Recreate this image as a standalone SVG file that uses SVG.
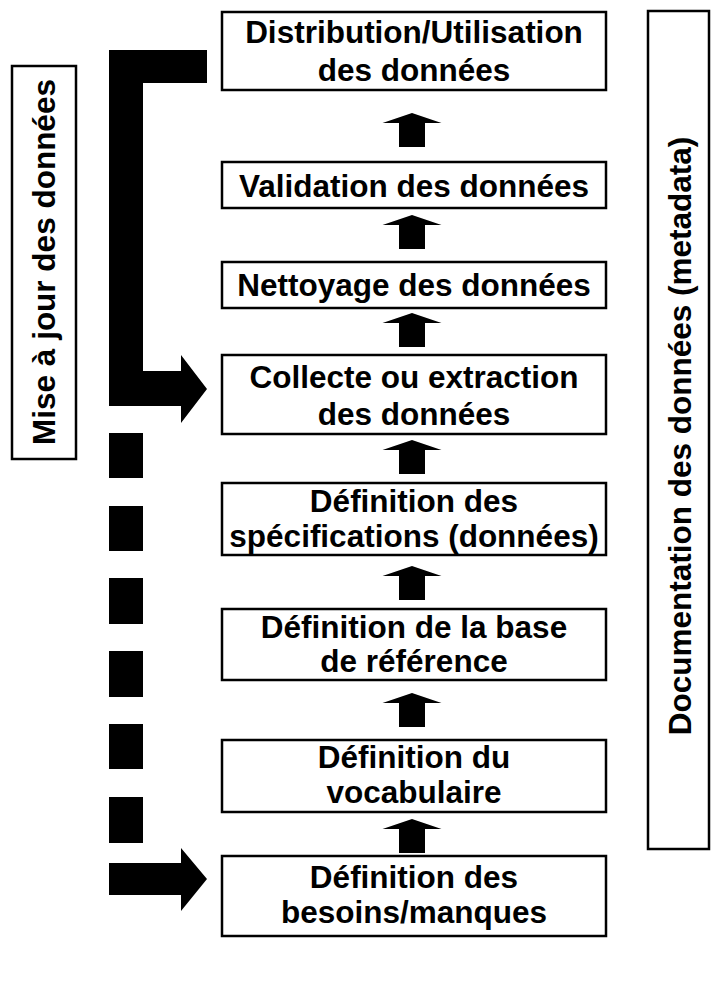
<svg xmlns="http://www.w3.org/2000/svg" width="712" height="994" viewBox="0 0 712 994">
<style>
.box{fill:#fff;stroke:#000;stroke-width:2.5}
.t{font-family:"Liberation Sans",Arial,sans-serif;font-weight:bold;font-size:31.5px;fill:#000;text-anchor:middle}
.k{fill:#000;stroke:none}
</style>
<defs>
<polygon id="up" points="0,0 29.5,10 13,10 13,34 -13,34 -13,10 -29.5,10"/>
</defs>
<rect width="712" height="994" fill="#fff"/>
<g id="connectors" class="k">
<polygon points="109,50 207,50 207,83 143,83 143,371 181,371 181,355 207,389 181,423 181,406 109,406"/>
<rect x="109" y="433" width="34" height="45"/>
<rect x="109" y="506" width="34" height="45"/>
<rect x="109" y="578" width="34" height="46"/>
<rect x="109" y="651" width="34" height="46"/>
<rect x="109" y="724" width="34" height="45"/>
<rect x="109" y="797" width="34" height="46"/>
<polygon points="109,863 181,863 181,848 207,879 181,911 181,895 109,895"/>
<use href="#up" x="412" y="113"/>
<use href="#up" x="412" y="215"/>
<use href="#up" x="412" y="313"/>
<use href="#up" x="412" y="440" transform="translate(0,0)"/>
<use href="#up" x="412" y="566"/>
<use href="#up" x="412" y="693"/>
<use href="#up" x="412" y="819"/>
</g>
<g id="n-distribution">
<rect class="box" x="222" y="12" width="384" height="78"/>
<text class="t" x="414" y="43">Distribution/Utilisation</text>
<text class="t" x="414" y="81">des données</text>
</g>
<g id="n-validation">
<rect class="box" x="222" y="162" width="384" height="46"/>
<text class="t" x="414" y="197">Validation des données</text>
</g>
<g id="n-nettoyage">
<rect class="box" x="222" y="262" width="384" height="46"/>
<text class="t" x="414" y="296">Nettoyage des données</text>
</g>
<g id="n-collecte">
<rect class="box" x="222" y="355" width="384" height="79"/>
<text class="t" x="414" y="388">Collecte ou extraction</text>
<text class="t" x="414" y="425">des données</text>
</g>
<g id="n-specifications">
<rect class="box" x="222" y="483" width="384" height="72"/>
<text class="t" x="414" y="512">Définition des</text>
<text class="t" x="414" y="547">spécifications (données)</text>
</g>
<g id="n-base">
<rect class="box" x="222" y="609" width="384" height="71"/>
<text class="t" x="414" y="638">Définition de la base</text>
<text class="t" x="414" y="672">de référence</text>
</g>
<g id="n-vocabulaire">
<rect class="box" x="222" y="740" width="384" height="72"/>
<text class="t" x="414" y="768">Définition du</text>
<text class="t" x="414" y="803">vocabulaire</text>
</g>
<g id="n-besoins">
<rect class="box" x="222" y="856" width="384" height="80"/>
<text class="t" x="414" y="888">Définition des</text>
<text class="t" x="414" y="923">besoins/manques</text>
</g>
<g id="n-miseajour">
<rect class="box" x="12" y="66" width="64" height="393"/>
<text class="t" transform="translate(55,262) rotate(-90)">Mise à jour des données</text>
</g>
<g id="n-documentation">
<rect class="box" x="648" y="11" width="61" height="838"/>
<text class="t" transform="translate(691,436) rotate(-90)">Documentation des données (metadata)</text>
</g>
</svg>
